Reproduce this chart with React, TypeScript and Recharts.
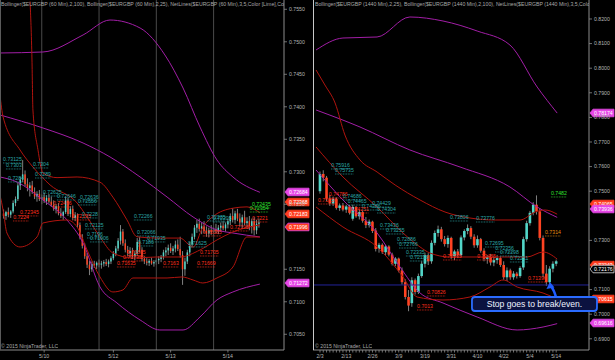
import React from 'react';
import { ComposedChart, Bar, Line, XAxis, YAxis, ReferenceLine, Scatter } from 'recharts';

const FONT = '"Liberation Sans", Arial, sans-serif';
const UP = '#52d6c8';
const DOWN = '#ff4322';
const WICK = '#a0a0a0';
const AXIS = '#8c8c8c';
const TXT = '#b4b4b4';
const BAND_RED = '#b0140e';
const BAND_MAG = '#a21ea6';
const LABEL_COLORS: Record<string, string> = { t: '#2ba6a6', r: '#ff2e1c', g: '#2fe02f', o: '#e88a0c' };

// ---------------- LEFT PANEL (60 min) ----------------
const leftTitle = 'Bollinger($EURGBP (60 Min),2,100), Bollinger($EURGBP (60 Min),2,25), NetLines($EURGBP (60 Min),3,5,Color [Lime],Color [Red])';
const leftXDomain = [-1.5, 117.5];
const leftYDomain = [0.70258, 0.75643];
const leftYTicks = [0.705, 0.71, 0.715, 0.725, 0.73, 0.735, 0.74, 0.745, 0.75, 0.755];
const leftXTickIdx = [17, 46, 70, 94];
const leftXTickLabels = ['5/10', '5/12', '5/13', '5/14'];
const leftSessionBreaks = [16, 40, 64, 88];

// [open, high, low, close]
const leftCandles: number[][] = [
  [0.7236, 0.7242, 0.7228, 0.7232], [0.7232, 0.7240, 0.7226, 0.7238], [0.7238, 0.7245, 0.7230, 0.7234],
  [0.7234, 0.7241, 0.7229, 0.7239], [0.7239, 0.7256, 0.7236, 0.7252], [0.7252, 0.7262, 0.7247, 0.7258],
  [0.7258, 0.7283, 0.7255, 0.7279], [0.7279, 0.7292, 0.7272, 0.7288], [0.7288, 0.7318, 0.7284, 0.7296],
  [0.7296, 0.7302, 0.7278, 0.7281], [0.7281, 0.7290, 0.7270, 0.7275], [0.7275, 0.7284, 0.7262, 0.7279],
  [0.7279, 0.7286, 0.7266, 0.7269], [0.7269, 0.7276, 0.7258, 0.7262], [0.7262, 0.7270, 0.7254, 0.7266],
  [0.7266, 0.7272, 0.7255, 0.7258], [0.7258, 0.7265, 0.7250, 0.7261], [0.7261, 0.7268, 0.7252, 0.7255],
  [0.7255, 0.7264, 0.7249, 0.7260], [0.7260, 0.7266, 0.7251, 0.7254], [0.7254, 0.7262, 0.7246, 0.7249],
  [0.7249, 0.7256, 0.7240, 0.7243], [0.7243, 0.7250, 0.7236, 0.7247], [0.7247, 0.7252, 0.7233, 0.7236],
  [0.7236, 0.7244, 0.7229, 0.7232], [0.7232, 0.7240, 0.7226, 0.7238], [0.7238, 0.7262, 0.7235, 0.7256],
  [0.7256, 0.7260, 0.7232, 0.7235], [0.7235, 0.7247, 0.7230, 0.7243], [0.7243, 0.7248, 0.7226, 0.7229],
  [0.7229, 0.7238, 0.7224, 0.7233], [0.7233, 0.7236, 0.7214, 0.7218], [0.7218, 0.7222, 0.7196, 0.7199],
  [0.7199, 0.7204, 0.7182, 0.7186], [0.7186, 0.7190, 0.7166, 0.7170], [0.7170, 0.7175, 0.7152, 0.7157],
  [0.7157, 0.7163, 0.7141, 0.7150], [0.7150, 0.7162, 0.7146, 0.7158], [0.7158, 0.7163, 0.7152, 0.7156],
  [0.7156, 0.7162, 0.7150, 0.7160], [0.7160, 0.7165, 0.7153, 0.7157], [0.7157, 0.7163, 0.7151, 0.7159],
  [0.7159, 0.7164, 0.7154, 0.7161], [0.7161, 0.7166, 0.7155, 0.7158], [0.7158, 0.7165, 0.7153, 0.7162],
  [0.7162, 0.7170, 0.7158, 0.7167], [0.7167, 0.7178, 0.7164, 0.7174], [0.7174, 0.7186, 0.7170, 0.7182],
  [0.7182, 0.7198, 0.7178, 0.7194], [0.7194, 0.7218, 0.7188, 0.7208], [0.7208, 0.7212, 0.7186, 0.7190],
  [0.7190, 0.7196, 0.7176, 0.7180], [0.7180, 0.7186, 0.7170, 0.7175], [0.7175, 0.7184, 0.7168, 0.7178],
  [0.7178, 0.7183, 0.7166, 0.7170], [0.7170, 0.7178, 0.7164, 0.7174], [0.7174, 0.7198, 0.7170, 0.7192],
  [0.7192, 0.7200, 0.7176, 0.7180], [0.7180, 0.7184, 0.7162, 0.7166], [0.7166, 0.7170, 0.7158, 0.7162],
  [0.7162, 0.7167, 0.7156, 0.7160], [0.7160, 0.7166, 0.7155, 0.7163], [0.7163, 0.7168, 0.7157, 0.7159],
  [0.7159, 0.7164, 0.7154, 0.7161], [0.7161, 0.7167, 0.7157, 0.7164], [0.7164, 0.7170, 0.7158, 0.7166],
  [0.7166, 0.7172, 0.7161, 0.7169], [0.7169, 0.7180, 0.7165, 0.7176], [0.7176, 0.7184, 0.7170, 0.7179],
  [0.7179, 0.7188, 0.7172, 0.7183], [0.7183, 0.7190, 0.7175, 0.7178], [0.7178, 0.7186, 0.7172, 0.7182],
  [0.7182, 0.7194, 0.7176, 0.7188], [0.7188, 0.7196, 0.7178, 0.7181], [0.7181, 0.7200, 0.7168, 0.7172],
  [0.7172, 0.7178, 0.7126, 0.7150], [0.7150, 0.7168, 0.7140, 0.7162], [0.7162, 0.7180, 0.7158, 0.7176],
  [0.7176, 0.7192, 0.7170, 0.7188], [0.7188, 0.7205, 0.7184, 0.7200], [0.7200, 0.7218, 0.7196, 0.7214],
  [0.7214, 0.7226, 0.7206, 0.7220], [0.7220, 0.7228, 0.7208, 0.7212], [0.7212, 0.7222, 0.7204, 0.7216],
  [0.7216, 0.7224, 0.7206, 0.7209], [0.7209, 0.7216, 0.7200, 0.7205], [0.7205, 0.7214, 0.7199, 0.7210],
  [0.7210, 0.7218, 0.7203, 0.7207], [0.7207, 0.7215, 0.7201, 0.7212], [0.7212, 0.7220, 0.7205, 0.7209],
  [0.7209, 0.7218, 0.7204, 0.7214], [0.7214, 0.7222, 0.7208, 0.7217], [0.7217, 0.7224, 0.7210, 0.7213],
  [0.7213, 0.7222, 0.7208, 0.7219], [0.7219, 0.7228, 0.7213, 0.7224], [0.7224, 0.7236, 0.7218, 0.7232],
  [0.7232, 0.7244, 0.7222, 0.7226], [0.7226, 0.7240, 0.7220, 0.7236], [0.7236, 0.7243, 0.7224, 0.7228],
  [0.7228, 0.7236, 0.7216, 0.7222], [0.7222, 0.7234, 0.7214, 0.7230], [0.7230, 0.7240, 0.7218, 0.7221],
  [0.7221, 0.7230, 0.7212, 0.7224], [0.7224, 0.7232, 0.7210, 0.7215], [0.7215, 0.7228, 0.7205, 0.7224],
  [0.7224, 0.7230, 0.7202, 0.7210], [0.7210, 0.7226, 0.7204, 0.7220], [0.7220, 0.7228, 0.7214, 0.7222],
];

// band curves: [bar index, price]
const leftRedUpper = [[11.1, 0.7562], [11.9, 0.7472], [12.3, 0.7395], [14.4, 0.7334], [16.5, 0.7298], [22.4, 0.7291], [30.8, 0.7292], [40.4, 0.7284], [45.8, 0.7261], [51.7, 0.7226], [55.9, 0.7200], [64.3, 0.7198], [73.9, 0.7198], [79.4, 0.7184], [83.5, 0.7215], [87.7, 0.7231], [96.1, 0.7244], [102.0, 0.7246], [107.4, 0.72368]];
const leftRedMid = [[-1.5, 0.74181], [-0.2, 0.73843], [6.9, 0.73335], [12.3, 0.73074], [19.5, 0.72797], [30.8, 0.7252], [35.0, 0.72305], [40.4, 0.71997], [45.8, 0.71751], [54.2, 0.71674], [64.3, 0.71689], [73.9, 0.71689], [82.3, 0.71797], [89.4, 0.71951], [96.1, 0.72074], [107.4, 0.72183]];
const leftRedLower = [[-1.5, 0.72643], [-0.2, 0.72412], [1.4, 0.72058], [6.9, 0.71843], [14.0, 0.71997], [16.5, 0.72212], [26.6, 0.72258], [30.8, 0.72151], [35.0, 0.71797], [40.4, 0.71382], [45.8, 0.71151], [50.0, 0.71182], [54.2, 0.71366], [68.5, 0.71366], [74.8, 0.71382], [79.4, 0.71335], [83.5, 0.71289], [89.4, 0.71366], [96.1, 0.71535], [102.0, 0.71997], [107.4, 0.71996]];
const leftMagUpper = [[-1.5, 0.74828], [16.5, 0.74843], [33.3, 0.75105], [44.6, 0.75335], [57.2, 0.75212], [67.6, 0.74797], [75.2, 0.74289], [82.3, 0.73689], [89.4, 0.73182], [96.1, 0.7292], [107.4, 0.72684]];
const leftMagMid = [[-1.5, 0.73874], [16.5, 0.73674], [33.3, 0.73443], [44.6, 0.73228], [57.2, 0.7292], [68.5, 0.72612], [79.4, 0.72305], [89.4, 0.72105], [96.1, 0.72058], [107.4, 0.71997]];
const leftMagLower = [[-1.5, 0.7292], [5.6, 0.72843], [16.5, 0.72566], [26.6, 0.72258], [33.3, 0.71905], [40.4, 0.71228], [47.5, 0.70982], [57.2, 0.7072], [65.5, 0.70566], [75.2, 0.70566], [82.3, 0.70766], [89.4, 0.71028], [96.1, 0.71151], [107.4, 0.71272]];

// NetLines labels: [bar index, price, text, colour]
const leftLabels: [number, number, string, string][] = [
  [-0.2, 0.73197, '0.73125', 't'], [1.0, 0.73105, '0.7303', 't'], [1.9, 0.72905, '0.7284', 't'],
  [12.3, 0.7312, '0.7304', 't'], [13.2, 0.72966, '0.7289', 't'], [16.5, 0.72689, '0.72625', 't'],
  [22.4, 0.72628, '0.72646', 't'], [20.7, 0.7252, '0.72456', 'r'], [32.0, 0.72612, '0.72636', 't'],
  [31.2, 0.72551, '0.72556', 't'], [6.9, 0.72382, '0.72345', 'r'], [4.0, 0.72305, '0.7224', 'r'],
  [28.7, 0.7232, '0.72195', 'r'], [32.9, 0.72351, '0.7228', 't'], [34.1, 0.72182, '0.72125', 't'],
  [35.0, 0.72043, '0.7196', 't'], [36.2, 0.71982, '0.71906', 't'], [54.6, 0.7232, '0.72266', 't'],
  [55.9, 0.72074, '0.72066', 't'], [60.1, 0.71982, '0.71935', 't'], [56.3, 0.7192, '0.7186', 't'],
  [51.7, 0.71766, '0.71805', 'r'], [50.0, 0.71689, '0.71735', 'r'], [47.5, 0.71597, '0.71635', 'r'],
  [66.8, 0.71597, '0.7163', 'r'], [82.3, 0.71766, '0.71705', 'r'], [81.0, 0.71597, '0.71669', 'r'],
  [77.3, 0.71905, '0.71625', 't'], [85.2, 0.72305, '0.72285', 't'], [83.5, 0.72074, '0.72085', 'r'],
  [94.9, 0.72151, '0.72195', 'r'], [104.1, 0.72505, '0.72435', 'g'], [103.2, 0.72443, '0.72354', 'g'],
  [104.1, 0.72289, '0.7221', 'r'], [87.7, 0.72289, '0.72205', 't'],
];

// axis price tags: [anchor price, text, style]
const leftTags: [number, string, string][] = [
  [0.72689, '0.72684', 'm'], [0.72535, '0.72368', 'r'], [0.72351, '0.72183', 'r'],
  [0.72151, '0.71996', 'rm'], [0.71289, '0.71272', 'm'],
];

// ---------------- RIGHT PANEL (1440 min) ----------------
const rightTitle = 'Bollinger($EURGBP (1440 Min),2,25), Bollinger($EURGBP (1440 Min),2,100), NetLines($EURGBP (1440 Min),3,5,Color [Lime])';
const rightXDomain = [-2.13, 82];
const rightYDomain = [0.68544, 0.82772];
const rightYTicks = [0.69, 0.7, 0.71, 0.73, 0.75, 0.76, 0.77, 0.78, 0.79, 0.8, 0.81, 0.82];
const rightXTickLabelIdx = [0, 8, 16, 24, 32, 40, 48, 56, 64, 72];
const rightXTickLabels = ['2/3', '2/13', '2/26', '3/9', '3/19', '3/31', '4/10', '4/22', '5/4', '5/14'];

const rightCandles: number[][] = [
  [0.7500, 0.7580, 0.7490, 0.7570], [0.7570, 0.7585, 0.7540, 0.7555], [0.7555, 0.7562, 0.7460, 0.7470],
  [0.7470, 0.7485, 0.7440, 0.7450], [0.7450, 0.7478, 0.7440, 0.7468], [0.7468, 0.7475, 0.7425, 0.7432],
  [0.7432, 0.7450, 0.7420, 0.7442], [0.7442, 0.7452, 0.7418, 0.7425], [0.7425, 0.7445, 0.7412, 0.7438],
  [0.7438, 0.7444, 0.7405, 0.7412], [0.7388, 0.7445, 0.7380, 0.7436], [0.7436, 0.7440, 0.7392, 0.7398],
  [0.7398, 0.7425, 0.7385, 0.7415], [0.7415, 0.7420, 0.7372, 0.7380], [0.7380, 0.7395, 0.7350, 0.7362],
  [0.7362, 0.7385, 0.7352, 0.7376], [0.7376, 0.7380, 0.7330, 0.7338], [0.7340, 0.7350, 0.7255, 0.7265],
  [0.7265, 0.7290, 0.7250, 0.7282], [0.7282, 0.7288, 0.7245, 0.7252], [0.7252, 0.7282, 0.7240, 0.7275],
  [0.7275, 0.7280, 0.7235, 0.7242], [0.7242, 0.7250, 0.7198, 0.7205], [0.7205, 0.7232, 0.7195, 0.7226],
  [0.7226, 0.7230, 0.7170, 0.7178], [0.7178, 0.7190, 0.7120, 0.7130], [0.7130, 0.7142, 0.7060, 0.7070],
  [0.7070, 0.7098, 0.7012, 0.7035], [0.7045, 0.7150, 0.7030, 0.7138], [0.7138, 0.7145, 0.7080, 0.7090],
  [0.7090, 0.7165, 0.7082, 0.7155], [0.7155, 0.7215, 0.7148, 0.7205], [0.7205, 0.7250, 0.7190, 0.7240],
  [0.7240, 0.7248, 0.7200, 0.7215], [0.7215, 0.7300, 0.7205, 0.7290], [0.7290, 0.7340, 0.7280, 0.7330],
  [0.7330, 0.7360, 0.7315, 0.7345], [0.7345, 0.7355, 0.7295, 0.7305], [0.7305, 0.7318, 0.7275, 0.7285],
  [0.7285, 0.7320, 0.7270, 0.7310], [0.7310, 0.7315, 0.7225, 0.7235], [0.7235, 0.7262, 0.7220, 0.7255],
  [0.7255, 0.7265, 0.7228, 0.7240], [0.7240, 0.7320, 0.7232, 0.7312], [0.7312, 0.7345, 0.7300, 0.7338],
  [0.7338, 0.7365, 0.7325, 0.7350], [0.7350, 0.7358, 0.7305, 0.7315], [0.7315, 0.7325, 0.7270, 0.7280],
  [0.7280, 0.7320, 0.7270, 0.7305], [0.7305, 0.7310, 0.7250, 0.7258], [0.7258, 0.7268, 0.7215, 0.7225],
  [0.7225, 0.7240, 0.7205, 0.7232], [0.7232, 0.7245, 0.7198, 0.7210], [0.7210, 0.7236, 0.7195, 0.7220],
  [0.7220, 0.7240, 0.7205, 0.7228], [0.7228, 0.7235, 0.7192, 0.7200], [0.7200, 0.7215, 0.7140, 0.7150],
  [0.7150, 0.7190, 0.7135, 0.7178], [0.7178, 0.7185, 0.7140, 0.7150], [0.7150, 0.7175, 0.7140, 0.7165],
  [0.7165, 0.7172, 0.7145, 0.7155], [0.7155, 0.7195, 0.7148, 0.7188], [0.7190, 0.7315, 0.7180, 0.7305],
  [0.7305, 0.7380, 0.7295, 0.7370], [0.7370, 0.7420, 0.7360, 0.7412], [0.7412, 0.7455, 0.7402, 0.7445],
  [0.7445, 0.7483, 0.7405, 0.7418], [0.7418, 0.7430, 0.7300, 0.7310], [0.7310, 0.7320, 0.7150, 0.7165],
  [0.7165, 0.7200, 0.7115, 0.7130], [0.7130, 0.7195, 0.7120, 0.7185], [0.7185, 0.7215, 0.7170, 0.7205],
  [0.7205, 0.7222, 0.7195, 0.7215],
];

const rightRedUpper = [[-1.2, 0.79927], [1.5, 0.79317], [4.6, 0.78585], [7.6, 0.77284], [12.2, 0.76268], [17.4, 0.7578], [22.9, 0.75252], [30.5, 0.74642], [38.1, 0.74154], [45.7, 0.7391], [53.4, 0.73829], [61.0, 0.73829], [65.6, 0.74154], [68.6, 0.74235], [72.3, 0.74065]];
const rightRedMid = [[-1.2, 0.76796], [7.0, 0.75577], [17.4, 0.74357], [25.3, 0.73301], [30.5, 0.72732], [33.5, 0.72487], [39.6, 0.72325], [48.8, 0.72325], [54.9, 0.72325], [63.1, 0.72325], [68.0, 0.72528], [72.3, 0.72243]];
const rightRedLower = [[-1.2, 0.74357], [7.0, 0.73545], [17.4, 0.72732], [25.3, 0.71512], [29.6, 0.70699], [37.5, 0.70577], [45.7, 0.70699], [51.8, 0.71105], [55.8, 0.7139], [60.1, 0.71105], [68.0, 0.70861], [72.3, 0.70615]];
const rightMagUpper = [[-1.2, 0.8074], [7.0, 0.81227], [17.4, 0.81268], [27.4, 0.82081], [37.5, 0.81918], [47.9, 0.81512], [57.9, 0.80943], [66.2, 0.79235], [72.3, 0.78174]];
const rightMagMid = [[-1.2, 0.78301], [12.2, 0.77609], [27.4, 0.76675], [42.7, 0.75983], [57.9, 0.75171], [66.2, 0.74357], [72.3, 0.73936]];
const rightMagLower = [[-1.2, 0.75861], [7.0, 0.74642], [17.4, 0.73301], [24.4, 0.71918], [30.5, 0.70861], [37.5, 0.70455], [47.9, 0.69886], [60.1, 0.69358], [68.0, 0.69479], [72.3, 0.69616]];

const rightLabels: [number, number, string, string][] = [
  [3.4, 0.76065, '0.75916', 't'], [4.6, 0.75861, '0.75735', 't'], [2.7, 0.74886, '0.74786', 'r'],
  [-0.6, 0.74642, '0.75156', 'r'], [7.0, 0.74805, '0.74686', 't'], [8.5, 0.74601, '0.74465', 't'],
  [12.8, 0.74398, '0.74386', 't'], [15.9, 0.7452, '0.74429', 't'], [17.4, 0.74276, '0.74304', 't'],
  [9.2, 0.74276, '0.74251', 'r'], [18.3, 0.73626, '0.73436', 't'], [20.1, 0.73423, '0.73255', 't'],
  [23.5, 0.73057, '0.72886', 't'], [24.1, 0.72853, '0.72766', 't'], [26.2, 0.72528, '0.72335', 't'],
  [27.4, 0.72325, '0.72136', 't'], [32.6, 0.70902, '0.70826', 'r'], [29.6, 0.70333, '0.7013', 'r'],
  [39.6, 0.73951, '0.73806', 't'], [47.6, 0.7391, '0.73776', 't'], [50.3, 0.72894, '0.72695', 't'],
  [37.5, 0.72366, '0.72365', 'r'], [47.9, 0.72366, '0.72485', 'r'], [53.4, 0.72691, '0.72356', 't'],
  [57.9, 0.72284, '0.72211', 't'], [54.9, 0.72528, '0.72298', 't'], [63.4, 0.71471, '0.71396', 'r'],
  [68.6, 0.73341, '0.7314', 'o'], [70.4, 0.74927, '0.7482', 'g'],
];

const rightTags: [number, string, string][] = [
  [0.78179, '0.78174', 'm'], [0.74479, '0.74065', 'r'], [0.74276, '0.73936', 'm'],
  [0.71999, '0.72243', 'r'], [0.71837, '0.72176', 'k'], [0.70618, '0.70615', 'r'], [0.69642, '0.69616', 'm'],
];

const stopLevel = 0.71187;
const calloutPoint = [70.1, 0.71309];
const calloutText = 'Stop goes to break/even.';

// ---------------- rendering helpers ----------------
const toRows = (c: number[][]) => c.map((v, i) => ({ x: i, o: v[0], h: v[1], l: v[2], c: v[3] }));
const toLine = (pts: number[][]) => pts.map((p) => ({ x: p[0], y: p[1] }));
const toLabels = (ls: [number, number, string, string][]) => ls.map((l) => ({ x: l[0], y: l[1], t: l[2], k: l[3] }));
const toTags = (ts: [number, string, string][], xMax: number) => ts.map((t) => ({ x: xMax, y: t[0], t: t[1], k: t[2] }));

const makeCandle = (bodyW: number) => (props: any) => {
  const { x, y, width, height, payload } = props;
  if (!payload || x == null || y == null) return <g />;
  const { o, h, l, c } = payload;
  const top = Math.min(y, y + height);
  const H = Math.abs(height);
  const k = h - l > 0 ? H / (h - l) : 0;
  const yo = top + (h - o) * k;
  const yc = top + (h - c) * k;
  const cx = x + width / 2;
  const bt = Math.min(yo, yc);
  const bh = Math.max(1, Math.abs(yc - yo));
  return (
    <g>
      <line x1={cx} x2={cx} y1={top} y2={top + H} stroke={WICK} strokeWidth={0.8} />
      <rect x={cx - bodyW / 2} y={bt} width={bodyW} height={bh} fill={c >= o ? UP : DOWN} />
    </g>
  );
};

const NetLabel = (props: any) => {
  const { cx, cy, payload } = props;
  if (cx == null) return <g />;
  const col = LABEL_COLORS[payload.k];
  const w = payload.t.length * 2.6;
  return (
    <g>
      <text x={cx} y={cy + 1.8} fontSize={5.2} fill={col} fontFamily={FONT}>{payload.t}</text>
      <line x1={cx} x2={cx + w} y1={cy + 4} y2={cy + 4} stroke={col} strokeWidth={0.8} strokeDasharray="0.8 0.8" />
    </g>
  );
};

const PriceTag = (props: any) => {
  const { cx, cy, payload } = props;
  if (cx == null) return <g />;
  const k = payload.k;
  const fill = k === 'm' ? '#e646e6' : k === 'k' ? '#000' : '#ff3d1f';
  const stroke = k === 'rm' ? '#e646e6' : k === 'k' ? '#ddd' : fill;
  const x0 = cx + 1;
  const hh = 3.8;
  const w = 24;
  const d = `M${x0},${cy} L${x0 + 3},${cy - hh} L${x0 + w},${cy - hh} L${x0 + w},${cy + hh} L${x0 + 3},${cy + hh} Z`;
  return (
    <g>
      <path d={d} fill={fill} stroke={stroke} strokeWidth={0.8} />
      <text x={x0 + 4} y={cy + 1.9} fontSize={5.2} fill="#fff" fontFamily={FONT}>{payload.t}</text>
    </g>
  );
};

const Callout = (props: any) => {
  const { cx, cy } = props;
  if (cx == null) return <g />;
  return (
    <g>
      <path d={`M${cx + 6},${cy + 15} Q${cx + 4},${cy + 8} ${cx + 1.5},${cy + 5}`} stroke="#1f5cff" strokeWidth={2.6} fill="none" />
      <path d={`M${cx},${cy} L${cx - 3.5},${cy + 7} L${cx + 4.5},${cy + 5.5} Z`} fill="#1f5cff" />
      <rect x={cx - 78} y={cy + 15} width={125} height={14} rx={3} fill="#0b1240" stroke="#2a6bff" strokeWidth={1.8} />
      <text x={cx - 15.5} y={cy + 25} textAnchor="middle" fontSize={8.6} fill="#eef2ff" fontFamily={FONT}>{calloutText}</text>
    </g>
  );
};

const YTick = (props: any) => {
  const { x, y, payload } = props;
  return (
    <g>
      <line x1={x} x2={x + 3} y1={y} y2={y} stroke={AXIS} strokeWidth={0.8} />
      <text x={x + 5} y={y + 1.9} fontSize={5.2} fill={TXT} fontFamily={FONT}>{Number(payload.value).toFixed(4)}</text>
    </g>
  );
};

const makeXTick = (labelIdx: number[], labels: string[], withMinor: boolean) => (props: any) => {
  const { x, y, payload } = props;
  const li = labelIdx.indexOf(payload.value);
  return (
    <g>
      {(withMinor || li >= 0) && <line x1={x} x2={x} y1={y} y2={y + 2.5} stroke={AXIS} strokeWidth={0.8} />}
      {li >= 0 && (
        <text x={x} y={y + 8} textAnchor="middle" fontSize={5.2} fill={TXT} fontFamily={FONT}>{labels[li]}</text>
      )}
    </g>
  );
};

const bandLine = (key: string, pts: number[][], color: string) => (
  <Line key={key} data={toLine(pts)} dataKey="y" type="monotone" stroke={color} strokeWidth={1} dot={false} activeDot={false} isAnimationActive={false} connectNulls />
);

const rightAllTicks = rightCandles.map((_, i) => i);

export default function App() {
  const leftData = toRows(leftCandles);
  const rightData = toRows(rightCandles);
  const textStyle: React.CSSProperties = { position: 'absolute', fontFamily: FONT, fontSize: 5.2, color: '#a8a8a8', whiteSpace: 'nowrap', overflow: 'hidden', lineHeight: '7px' };
  return (
    <div style={{ position: 'fixed', left: 0, top: 0, width: 615, height: 360, background: '#000', overflow: 'hidden' }}>
      {/* left panel */}
      <div style={{ position: 'absolute', left: 0, top: 0 }}>
        <ComposedChart width={310} height={360} data={leftData} margin={{ top: 0, right: 0, bottom: 0, left: 0 }}>
          <XAxis dataKey="x" type="number" domain={leftXDomain} ticks={leftXTickIdx} interval={0} height={10} tickSize={0} tickMargin={0}
            axisLine={{ stroke: AXIS }} tickLine={false} tick={makeXTick(leftXTickIdx, leftXTickLabels, false)} />
          <YAxis type="number" orientation="right" domain={leftYDomain} ticks={leftYTicks} interval={0} width={26} tickSize={0} tickMargin={0}
            axisLine={{ stroke: AXIS }} tickLine={false} tick={YTick} />
          {leftSessionBreaks.map((b) => (
            <ReferenceLine key={'b' + b} x={b} stroke="#4a4a4a" strokeWidth={1} />
          ))}
          {bandLine('lmu', leftMagUpper, BAND_MAG)}
          {bandLine('lmm', leftMagMid, BAND_MAG)}
          {bandLine('lml', leftMagLower, BAND_MAG)}
          {bandLine('lru', leftRedUpper, BAND_RED)}
          {bandLine('lrm', leftRedMid, BAND_RED)}
          {bandLine('lrl', leftRedLower, BAND_RED)}
          <Bar dataKey={(d: any) => [d.l, d.h]} barSize={2} shape={makeCandle(1.5)} isAnimationActive={false} />
          <Scatter data={toLabels(leftLabels)} dataKey="y" shape={NetLabel} isAnimationActive={false} />
          <Scatter data={toTags(leftTags, leftXDomain[1])} dataKey="y" shape={PriceTag} isAnimationActive={false} />
        </ComposedChart>
        <div style={{ ...textStyle, left: 1, top: 1, width: 283 }}>{leftTitle}</div>
        <div style={{ ...textStyle, left: 1, top: 343 }}>© 2015 NinjaTrader, LLC</div>
        <div style={{ position: 'absolute', left: 0, top: 0, width: 1, height: 350, background: '#5a5a5a' }} />
      </div>

      {/* right panel */}
      <div style={{ position: 'absolute', left: 313, top: 0 }}>
        <ComposedChart width={302} height={360} data={rightData} margin={{ top: 0, right: 0, bottom: 0, left: 0 }}>
          <XAxis dataKey="x" type="number" domain={rightXDomain} ticks={rightAllTicks} interval={0} height={10} tickSize={0} tickMargin={0}
            axisLine={{ stroke: AXIS }} tickLine={false} tick={makeXTick(rightXTickLabelIdx, rightXTickLabels, true)} />
          <YAxis type="number" orientation="right" domain={rightYDomain} ticks={rightYTicks} interval={0} width={26} tickSize={0} tickMargin={0}
            axisLine={{ stroke: AXIS }} tickLine={false} tick={YTick} />
          <ReferenceLine y={stopLevel} stroke="#22229a" strokeWidth={1} />
          {bandLine('rmu', rightMagUpper, BAND_MAG)}
          {bandLine('rmm', rightMagMid, BAND_MAG)}
          {bandLine('rml', rightMagLower, BAND_MAG)}
          {bandLine('rru', rightRedUpper, BAND_RED)}
          {bandLine('rrm', rightRedMid, BAND_RED)}
          {bandLine('rrl', rightRedLower, BAND_RED)}
          <Bar dataKey={(d: any) => [d.l, d.h]} barSize={3} shape={makeCandle(2.6)} isAnimationActive={false} />
          <Scatter data={toLabels(rightLabels)} dataKey="y" shape={NetLabel} isAnimationActive={false} />
          <Scatter data={toTags(rightTags, rightXDomain[1])} dataKey="y" shape={PriceTag} isAnimationActive={false} />
          <Scatter data={[{ x: calloutPoint[0], y: calloutPoint[1] }]} dataKey="y" shape={Callout} isAnimationActive={false} />
        </ComposedChart>
        <div style={{ ...textStyle, left: 2, top: 1, width: 274 }}>{rightTitle}</div>
        <div style={{ ...textStyle, left: 2, top: 343 }}>© 2015 NinjaTrader, LLC</div>
        <div style={{ position: 'absolute', left: 0, top: 0, width: 1, height: 350, background: '#c8c8c8' }} />
      </div>
    </div>
  );
}
